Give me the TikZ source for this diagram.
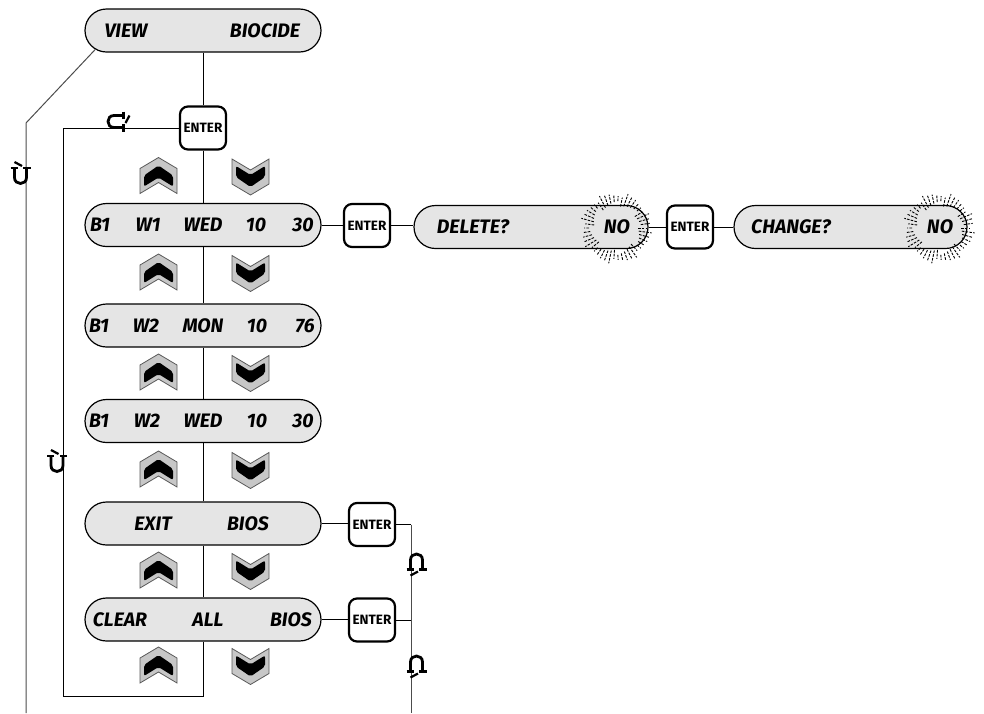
\documentclass[tikz,border=0pt]{standalone}
\usepackage{fontspec}
\setmainfont{Fira Sans}
\usetikzlibrary{shapes.misc}
\tikzset{
  pill/.style={rounded rectangle, draw=black, line width=1.2pt, fill=black!10,
    minimum width=236pt, minimum height=43pt, inner sep=0pt},
  enterbox/.style={draw=black, line width=2.2pt, fill=white, rounded corners=8pt,
    minimum width=46pt, minimum height=43pt, inner sep=0pt,
    font=\bfseries\fontsize{13.5}{14}\selectfont},
  lcd/.style={font=\bfseries\itshape\fontsize{19.5}{20}\selectfont, inner sep=0pt},
  conn/.style={draw=black, line width=0.9pt},
  conng/.style={draw=black!70, line width=1pt},
  chevup/.pic={
    \draw[fill=black!22, draw=black!65, line width=0.8pt]
      (0,-18) -- (18.5,-7) -- (18.5,18) -- (0,7) -- (-18.5,18) -- (-18.5,-7) -- cycle;
    \fill[black, rounded corners=2pt]
      (-14.5,0) -- (0,-10) -- (14.5,0) -- (14.5,11) -- (0,2) -- (-14.5,11) -- cycle;
  },
  chevdown/.pic={
    \draw[fill=black!22, draw=black!65, line width=0.8pt]
      (0,18) -- (18.5,7) -- (18.5,-18) -- (0,-7) -- (-18.5,-18) -- (-18.5,7) -- cycle;
    \fill[black, rounded corners=2pt]
      (-14.5,0) -- (0,10) -- (14.5,0) -- (14.5,-11) -- (0,-2) -- (-14.5,-11) -- cycle;
  },
  shoe/.pic={
    \draw[line width=2.8pt] (-6,7.5) -- (-6,-1) .. controls (-6,-9) and (6,-9) .. (6,-1) -- (6,7.5);
    \draw[line width=2.4pt] (-10,8.3) -- (-2.8,8.3) (2.8,8.3) -- (10,8.3);
    \draw[line width=2.2pt] (-6,14.5) -- (1.5,10.5);
  },
  burst/.pic={
    \foreach \i in {0,...,45} {
      \pgfmathsetmacro\ra{22+mod(\i*7,6)}
      \pgfmathsetmacro\rb{31+mod(\i*5,6)}
      \draw[line width=0.9pt, dash pattern=on 2.6pt off 1.2pt] (\i*7.826:\ra) -- (\i*7.826:\rb);
    }
  },
}
\begin{document}
\begin{tikzpicture}[x=1pt, y=-1pt]
\useasboundingbox (0,0) rectangle (984,713);

% ---------- left column pills ----------
\node[pill] (view) at (203,30.5) {};
\node[lcd] (tv1) at (126,30.5) {VIEW};
\node[lcd] (tv2) at (265,30.5) {BIOCIDE};

\node[enterbox] (e0) at (203,128) {ENTER};

\node[pill] (r1) at (203,225) {};
\node[lcd] (a1) at (100,225) {B1};
\node[lcd] (a2) at (148,225) {W1};
\node[lcd] (a3) at (203,225) {WED};
\node[lcd] (a4) at (256,225) {10};
\node[lcd] (a5) at (303,225) {30};

\node[pill] (r2) at (203,325.5) {};
\node[lcd] (b1) at (99,325.5) {B1};
\node[lcd] (b2) at (146,325.5) {W2};
\node[lcd] (b3) at (203,325.5) {MON};
\node[lcd] (b4) at (257,325.5) {10};
\node[lcd] (b5) at (305,325.5) {76};

\node[pill] (r3) at (203,421) {};
\node[lcd] (c1) at (99,421) {B1};
\node[lcd] (c2) at (147,421) {W2};
\node[lcd] (c3) at (203,421) {WED};
\node[lcd] (c4) at (257,421) {10};
\node[lcd] (c5) at (303,421) {30};

\node[pill] (exit) at (203,523.5) {};
\node[lcd] (d1) at (153,523.5) {EXIT};
\node[lcd] (d2) at (248,523.5) {BIOS};

\node[pill] (clear) at (203,619.5) {};
\node[lcd] (f1) at (120,619.5) {CLEAR};
\node[lcd] (f2) at (208,619.5) {ALL};
\node[lcd] (f3) at (291,619.5) {BIOS};

% ---------- right branch ----------
\node[enterbox] (e1) at (367,225.5) {ENTER};
\node[pill, minimum width=234pt] (del) at (531,227) {};
\node[lcd] (g1) at (473,227) {DELETE?};
\node[lcd] (g2) at (617,227) {NO};
\node[enterbox] (e2) at (690,227) {ENTER};
\node[pill, minimum width=233pt] (chg) at (850.5,227) {};
\node[lcd] (h1) at (791,227) {CHANGE?};
\node[lcd] (h2) at (940,227) {NO};

\node[enterbox] (e3) at (372,524.5) {ENTER};
\node[enterbox] (e4) at (372,620) {ENTER};

% ---------- connectors ----------
\coordinate (lbl) at (63,696);
\coordinate (lt) at (26,123);
\coordinate (lbot) at (26,713);
\coordinate (rt) at (411,524.5);
\coordinate (rbot) at (411,713);

\draw[conn] (view.south) -- (e0.north);
\draw[conn] (e0.south) -- (r1.north);
\draw[conn] (r1.south) -- (r2.north);
\draw[conn] (r2.south) -- (r3.north);
\draw[conn] (r3.south) -- (exit.north);
\draw[conn] (exit.south) -- (clear.north);
\draw[conn] (clear.south) |- (lbl) |- (e0.west);

\draw[conng] (view.190) -- (lt) -- (lbot);

\draw[conn] (r1.east) -- (r1.east -| e1.west);
\draw[conn] (e1.east) -- (e1.east -| del.west);
\draw[conn] (del.east) -- (del.east -| e2.west);
\draw[conn] (e2.east) -- (e2.east -| chg.west);

\draw[conn] (exit.east) -- (exit.east -| e3.west);
\draw[conn] (e3.east) -- (rt);
\draw[conng] (rt) -- (rbot);
\draw[conn] (clear.east) -- (clear.east -| e4.west);
\draw[conn] (e4.east) -- (e4.east -| rt);

% ---------- chevrons ----------
\foreach \y [count=\k] in {175.5,272,372,469,570,665} {
  \pic (cu\k) at (158.5,\y) {chevup};
  \pic (cd\k) at (250.5,\y+1.5) {chevdown};
}

% ---------- blinking marks ----------
\pic (bu1) at (616,228) {burst};
\pic (bu2) at (939,228) {burst};

% ---------- direction glyphs ----------
\pic (s1) at (416.5,561) {shoe};
\pic (s2) at (416.5,663) {shoe};
\pic[yscale=-1] (s3) at (20.5,176.5) {shoe};
\pic[yscale=-1] (s4) at (57,464.5) {shoe};
\pic[cm={0,-1,-1,0,(0,0)}] (s5) at (115,121.5) {shoe};
\end{tikzpicture}
\end{document}
